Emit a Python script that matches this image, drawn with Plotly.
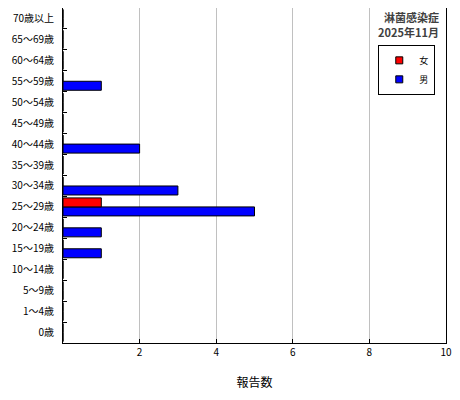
import plotly.graph_objects as go

ages = ["0歳", "1～4歳", "5～9歳", "10～14歳", "15～19歳", "20～24歳",
        "25～29歳", "30～34歳", "35～39歳", "40～44歳", "45～49歳",
        "50～54歳", "55～59歳", "60～64歳", "65～69歳", "70歳以上"]
male = [0, 0, 0, 0, 1, 1, 5, 3, 0, 2, 0, 0, 1, 0, 0, 0]
female = [0, 0, 0, 0, 0, 0, 1, 0, 0, 0, 0, 0, 0, 0, 0, 0]
x_ticks = [2, 4, 6, 8, 10]
title_lines = ["淋菌感染症", "2025年11月"]

FONT = "Noto Sans CJK JP"
RED = "#ff0000"
BLUE = "#0000ff"

fig = go.Figure()
# first trace sits lower inside each group, so 男 goes first
fig.add_trace(go.Bar(y=ages, x=male, name="男", orientation="h", showlegend=False,
                     marker=dict(color=BLUE, line=dict(color="black", width=1))))
fig.add_trace(go.Bar(y=ages, x=female, name="女", orientation="h", showlegend=False,
                     marker=dict(color=RED, line=dict(color="black", width=1))))

# small square legend keys
for name, col in [("女", RED), ("男", BLUE)]:
    fig.add_trace(go.Scatter(x=[None], y=[None], mode="markers", name=name,
                             marker=dict(symbol="square", size=7, color=col,
                                         line=dict(color="black", width=1))))

# title in the top right corner, one annotation per line
for i, line in enumerate(title_lines):
    fig.add_annotation(text="<b>" + line + "</b>", xref="paper", yref="paper",
                       x=0.985, y=1.0 - i * 0.046, xanchor="right", yanchor="top",
                       showarrow=False, borderpad=0,
                       font=dict(family=FONT, size=11, color="#404040"))

# the page body adds ~8px around the figure, margins make up for it
fig.update_layout(
    width=460, height=400,
    margin=dict(l=55, r=22, t=0, b=65, autoexpand=False),
    paper_bgcolor="white", plot_bgcolor="white",
    font=dict(family=FONT, size=10, color="black"),
    barmode="group", bargap=0.14, bargroupgap=0,
    showlegend=True,
    legend=dict(x=0.972, y=0.89, xanchor="right", yanchor="top",
                bordercolor="black", borderwidth=1,
                bgcolor="white", font=dict(size=9), itemwidth=30,
                tracegroupgap=0),
    xaxis=dict(range=[0, 10], tickvals=x_ticks, ticks="inside", ticklen=4,
               tickcolor="black", showgrid=True, gridcolor="#c0c0c0",
               showline=True, linecolor="black", linewidth=1, mirror=True,
               zeroline=False, title=dict(text="報告数", standoff=20),
               fixedrange=True),
    yaxis=dict(categoryorder="array", categoryarray=ages, ticks="inside",
               tickson="boundaries", ticklen=4, tickcolor="black",
               showgrid=False, showline=True, linecolor="black", linewidth=1,
               mirror=True, ticklabelstandoff=6, fixedrange=True),
)

fig.write_html("out.html")
